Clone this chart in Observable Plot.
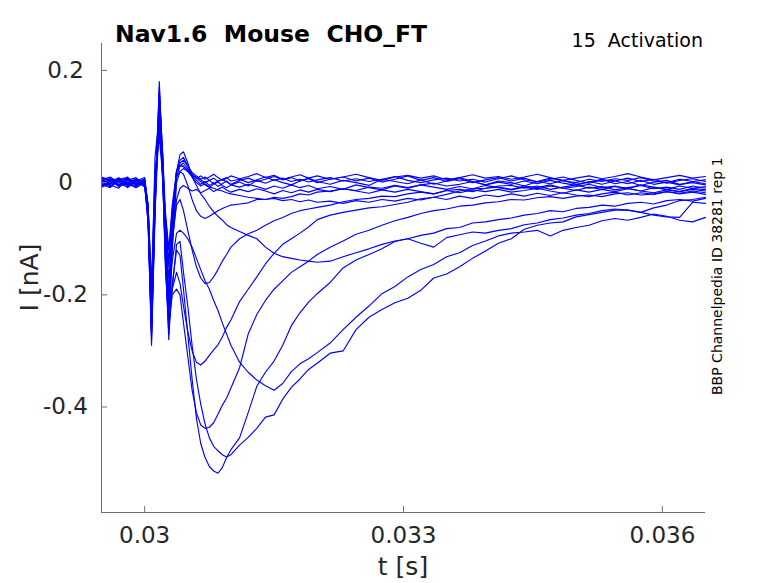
<!DOCTYPE html>
<html><head><meta charset="utf-8">
<script src="https://cdn.jsdelivr.net/npm/d3@7"></script>
<script src="https://cdn.jsdelivr.net/npm/@observablehq/plot@0.6"></script>
<style>html,body{margin:0;padding:0;background:#fff;} #chart svg{display:block}</style>
</head><body><div id="chart"></div>
<script>
// time grid (s)
const time = [0.0295, 0.0296, 0.0297, 0.0298, 0.0299, 0.03,
  0.03004, 0.03008, 0.03012, 0.03017, 0.03021, 0.03024, 0.03028, 0.03032, 0.03037, 0.03041,
  0.03045, 0.0305, 0.03055, 0.0306, 0.03065, 0.0307, 0.03075, 0.0308, 0.03085, 0.0309, 0.03095, 0.031,
  0.0311, 0.0312, 0.0313, 0.0314, 0.0315, 0.0316, 0.0317, 0.0318, 0.0319, 0.032,
  0.03215, 0.0323, 0.03245, 0.0326, 0.03275, 0.0329, 0.03305, 0.0332, 0.03335, 0.0335,
  0.03365, 0.0338, 0.03395, 0.0341, 0.03425, 0.0344, 0.03455, 0.0347, 0.03485, 0.035,
  0.03515, 0.0353, 0.03545, 0.0356, 0.03575, 0.0359, 0.03605, 0.0362, 0.03635, 0.0365];

// current (nA) per sweep
const sweep01 = [0.003, -0.006, 0.002, 0.008, -0.004, 0.007,
  -0.05, -0.24, -0.02, 0.17, 0.04, -0.1, -0.2, -0.08, 0.02, 0.03,
  0.03, 0.02, 0.012, 0.01, 0.005, 0.0, 0.004, -0.002, 0.003, 0.006, 0.001, -0.003,
  0.004, 0.008, 0.002, 0.006, 0.011, 0.005, 0.009, 0.003, 0.007, 0.0,
  0.006, 0.01, 0.003, 0.008, 0.001, 0.006, 0.012, 0.004, 0.009, 0.002, 0.007, 0.0, 0.005, 0.009, 0.003, 0.008, 0.001, 0.006, 0.01, 0.004, -0.001, 0.005, 0.003, 0.008, 0.002, 0.006, -0.001, 0.004, 0.007, 0.002];
const sweep02 = [-0.007, 0.001, 0.006, -0.002, -0.009, 0.0,
  -0.06, -0.27, -0.04, 0.15, 0.02, -0.12, -0.24, -0.1, 0.01, 0.03,
  0.035, 0.025, 0.012, 0.004, -0.003, 0.002, -0.005, 0.0, -0.007, -0.002, 0.003, -0.004,
  0.001, -0.006, 0.004, -0.001, 0.005, 0.0, -0.004, 0.003, 0.008, 0.002,
  -0.003, 0.004, 0.0, -0.005, 0.006, 0.002, -0.002, 0.005, -0.003, 0.003, 0.009, 0.002, -0.004, 0.003, 0.0, -0.006, 0.002, -0.002, 0.004, -0.003, 0.001, 0.006, -0.002, 0.002, -0.005, 0.001, 0.004, -0.003, 0.0, -0.004];
const sweep03 = [0.009, 0.002, -0.005, 0.004, 0.001, -0.006,
  -0.05, -0.26, -0.03, 0.16, 0.05, -0.09, -0.2, -0.07, 0.02, 0.035,
  0.04, 0.03, 0.018, 0.012, 0.006, 0.01, 0.004, 0.008, 0.002, 0.006, 0.009, 0.003,
  0.006, 0.0, 0.005, 0.01, 0.004, 0.008, 0.002, 0.006, 0.001, 0.005,
  0.009, 0.003, 0.007, 0.002, 0.006, 0.011, 0.004, 0.0, 0.005, 0.008, 0.003, 0.006, 0.001, 0.007, 0.012, 0.005, 0.002, 0.008, 0.003, 0.0, 0.006, 0.002, 0.007, 0.004, 0.009, 0.003, 0.0, 0.006, 0.002, 0.005];
const sweep04 = [-0.003, -0.009, 0.004, 0.0, 0.007, -0.005,
  -0.07, -0.29, -0.06, 0.18, 0.03, -0.13, -0.28, -0.12, 0.0, 0.02,
  0.025, 0.02, 0.01, 0.0, -0.006, -0.002, -0.008, -0.003, 0.001, -0.005, -0.009, -0.004,
  -0.008, -0.003, -0.007, -0.012, -0.006, -0.01, -0.004, -0.009, -0.005, -0.011,
  -0.007, -0.012, -0.004, -0.009, -0.013, -0.006, -0.01, -0.004, -0.008, -0.012, -0.007, -0.011, -0.005, -0.009, -0.013, -0.008, -0.012, -0.006, -0.01, -0.014, -0.008, -0.012, -0.007, -0.01, -0.015, -0.009, -0.012, -0.016, -0.01, -0.013];
const sweep05 = [0.005, 0.01, 0.0, -0.004, 0.003, 0.009,
  -0.04, -0.21, 0.045, 0.12, 0.05, -0.05, -0.12, -0.04, 0.02, 0.03,
  0.028, 0.022, 0.015, 0.008, 0.012, 0.006, 0.01, 0.015, 0.009, 0.004, 0.008, 0.012,
  0.007, 0.011, 0.016, 0.009, 0.013, 0.006, 0.01, 0.014, 0.008, 0.012,
  0.006, 0.01, 0.015, 0.009, 0.004, 0.01, 0.013, 0.008, 0.012, 0.005, 0.009, 0.014, 0.008, 0.011, 0.006, 0.01, 0.015, 0.009, 0.004, 0.008, 0.012, 0.007, 0.011, 0.016, 0.01, 0.005, 0.009, 0.013, 0.008, 0.011];
const sweep06 = [-0.008, -0.002, 0.003, 0.006, -0.005, 0.002,
  -0.06, -0.25, -0.02, 0.14, 0.0, -0.11, -0.22, -0.11, -0.03, -0.01,
  -0.005, -0.01, -0.015, -0.012, -0.018, -0.014, -0.01, -0.016, -0.012, -0.008, -0.013, -0.017,
  -0.012, -0.016, -0.011, -0.015, -0.02, -0.014, -0.018, -0.013, -0.017, -0.012,
  -0.016, -0.011, -0.015, -0.019, -0.013, -0.017, -0.012, -0.016, -0.02, -0.014, -0.018, -0.013, -0.016, -0.012, -0.017, -0.014, -0.01, -0.015, -0.019, -0.013, -0.017, -0.012, -0.016, -0.011, -0.015, -0.018, -0.013, -0.016, -0.012, -0.015];
const sweep07 = [0.01, 0.004, -0.003, -0.007, 0.005, -0.001,
  -0.05, -0.23, -0.01, 0.1, 0.04, -0.07, -0.15, -0.05, 0.02, 0.04,
  0.045, 0.03, 0.015, 0.008, 0.002, -0.004, -0.008, -0.01, -0.013, -0.015, -0.018, -0.02,
  -0.023, -0.026, -0.028, -0.03, -0.028, -0.032, -0.03, -0.034, -0.031, -0.035,
  -0.033, -0.037, -0.032, -0.035, -0.03, -0.033, -0.028, -0.031, -0.026, -0.03, -0.024, -0.028, -0.022, -0.025, -0.02, -0.024, -0.019, -0.023, -0.018, -0.022, -0.025, -0.02, -0.017, -0.022, -0.018, -0.021, -0.016, -0.02, -0.017, -0.021];
const sweep08 = [-0.006, 0.003, 0.008, -0.005, 0.004, -0.008,
  -0.05, -0.22, 0.0, 0.09, 0.03, -0.06, -0.14, -0.06, 0.02, 0.05,
  0.055, 0.035, 0.01, -0.005, -0.02, -0.03, -0.042, -0.052, -0.06, -0.067, -0.075, -0.08,
  -0.087, -0.094, -0.1, -0.115, -0.126, -0.132, -0.135, -0.138, -0.14, -0.142,
  -0.14, -0.132, -0.125, -0.118, -0.11, -0.104, -0.1, -0.108, -0.115, -0.098, -0.093, -0.088, -0.09, -0.085, -0.082, -0.075, -0.072, -0.066, -0.063, -0.058, -0.055, -0.05, -0.047, -0.049, -0.053, -0.045, -0.04, -0.032, -0.03, -0.026];
const sweep09 = [0.006, -0.004, -0.01, 0.007, -0.003, 0.001,
  -0.06, -0.25, -0.05, 0.11, 0.02, -0.1, -0.2, -0.14, -0.09, -0.085,
  -0.09, -0.1, -0.115, -0.135, -0.155, -0.175, -0.19, -0.21, -0.228, -0.25, -0.27, -0.29,
  -0.32, -0.338, -0.352, -0.362, -0.37, -0.358, -0.337, -0.323, -0.314, -0.303,
  -0.286, -0.262, -0.24, -0.22, -0.198, -0.185, -0.168, -0.155, -0.146, -0.132, -0.125, -0.112, -0.104, -0.095, -0.09, -0.088, -0.085, -0.095, -0.085, -0.08, -0.076, -0.068, -0.064, -0.067, -0.062, -0.056, -0.06, -0.067, -0.07, -0.062];
const sweep10 = [-0.005, 0.007, -0.004, 0.01, -0.006, 0.003,
  -0.06, -0.26, -0.03, 0.13, 0.02, -0.14, -0.27, -0.19, -0.11, -0.105,
  -0.16, -0.22, -0.29, -0.35, -0.395, -0.43, -0.455, -0.47, -0.478, -0.485, -0.489, -0.485,
  -0.468, -0.454, -0.438, -0.418, -0.414, -0.386, -0.365, -0.35, -0.333, -0.322,
  -0.304, -0.3, -0.262, -0.24, -0.226, -0.214, -0.206, -0.192, -0.17, -0.163, -0.15, -0.135, -0.122, -0.108, -0.1, -0.083, -0.076, -0.072, -0.07, -0.061, -0.057, -0.053, -0.049, -0.049, -0.053, -0.058, -0.061, -0.062, -0.035, -0.037];
const sweep11 = [0.004, -0.008, 0.009, -0.003, 0.006, -0.002,
  -0.07, -0.28, -0.05, 0.16, 0.03, -0.13, -0.26, -0.18, -0.12, -0.13,
  -0.19, -0.27, -0.35, -0.42, -0.465, -0.49, -0.506, -0.514, -0.518, -0.508, -0.49, -0.476,
  -0.455, -0.41, -0.363, -0.338, -0.318, -0.29, -0.255, -0.232, -0.213, -0.198,
  -0.178, -0.152, -0.138, -0.128, -0.118, -0.105, -0.1, -0.094, -0.09, -0.082, -0.08, -0.072, -0.07, -0.066, -0.063, -0.058, -0.055, -0.05, -0.052, -0.046, -0.044, -0.04, -0.042, -0.037, -0.035, -0.038, -0.032, -0.03, -0.033, -0.028];
const sweep12 = [0.008, -0.003, 0.005, -0.009, 0.002, 0.006,
  -0.07, -0.27, -0.04, 0.14, 0.01, -0.15, -0.25, -0.2, -0.19, -0.2,
  -0.25, -0.31, -0.37, -0.41, -0.432, -0.438, -0.436, -0.428, -0.413, -0.397, -0.384, -0.366,
  -0.33, -0.27, -0.235, -0.21, -0.19, -0.175, -0.16, -0.15, -0.14, -0.128,
  -0.115, -0.104, -0.092, -0.085, -0.076, -0.068, -0.062, -0.055, -0.05, -0.047, -0.042, -0.04, -0.036, -0.034, -0.03, -0.031, -0.027, -0.025, -0.028, -0.024, -0.022, -0.025, -0.02, -0.018, -0.022, -0.02, -0.016, -0.019, -0.015, -0.018];
const sweep13 = [-0.002, 0.005, -0.007, 0.004, 0.009, -0.004,
  -0.05, -0.24, -0.02, 0.12, 0.0, -0.12, -0.22, -0.19, -0.16, -0.18,
  -0.22, -0.265, -0.3, -0.32, -0.325, -0.318, -0.308, -0.298, -0.289, -0.275, -0.258, -0.245,
  -0.212, -0.19, -0.168, -0.145, -0.126, -0.11, -0.1, -0.09, -0.079, -0.066,
  -0.058, -0.053, -0.049, -0.045, -0.043, -0.039, -0.035, -0.029, -0.026, -0.021, -0.015, -0.011, -0.01, -0.006, -0.005, -0.01, -0.006, -0.012, -0.008, -0.004, -0.01, -0.007, -0.013, -0.009, -0.005, -0.011, -0.008, -0.012, -0.006, -0.01];
const sweep14 = [0.002, 0.009, -0.006, 0.001, -0.008, 0.005,
  -0.04, -0.2, 0.01, 0.1, 0.02, -0.08, -0.17, -0.1, -0.04, -0.03,
  -0.05, -0.085, -0.12, -0.15, -0.17, -0.18, -0.178, -0.168, -0.155, -0.14, -0.128, -0.115,
  -0.1, -0.091, -0.085, -0.076, -0.068, -0.062, -0.055, -0.05, -0.047, -0.044,
  -0.04, -0.034, -0.03, -0.028, -0.024, -0.025, -0.02, -0.017, -0.02, -0.014, -0.012, -0.016, -0.01, -0.008, -0.012, -0.006, -0.009, -0.004, -0.01, -0.007, -0.003, -0.009, -0.006, -0.011, -0.004, -0.008, -0.012, -0.006, -0.01, -0.007];
const sweep15 = [-0.004, -0.001, 0.006, 0.009, -0.002, 0.004,
  -0.04, -0.18, 0.02, 0.08, 0.01, -0.06, -0.12, -0.05, 0.01, 0.02,
  0.015, -0.005, -0.03, -0.05, -0.06, -0.064, -0.06, -0.055, -0.05, -0.046, -0.043, -0.04,
  -0.038, -0.036, -0.03, -0.03, -0.026, -0.028, -0.025, -0.02, -0.022, -0.017,
  -0.015, -0.011, -0.014, -0.008, -0.01, -0.005, -0.009, -0.004, -0.001, -0.006, -0.003, 0.002, -0.004, 0.001, -0.003, 0.003, -0.002, 0.004, -0.001, -0.005, 0.002, -0.003, 0.003, -0.002, 0.004, -0.003, 0.001, -0.004, 0.002, -0.002];

const sweeps = [sweep01, sweep02, sweep03, sweep04, sweep05, sweep06, sweep07, sweep08,
  sweep09, sweep10, sweep11, sweep12, sweep13, sweep14, sweep15];

const xDomain = [0.0295, 0.0365];
const yDomain = [-0.588, 0.248];
const xTicks = [0.03, 0.033, 0.036];
const yTicks = [0.2, 0, -0.2, -0.4];
const titleText = "Nav1.6  Mouse  CHO_FT";
const protocolText = "15  Activation";
const sideText = "BBP Channelpedia ID 38281 rep 1";
const xLabel = "t [s]";
const yLabel = "I [nA]";

const rows = sweeps.flatMap((s, k) => s.map((v, i) => ({t: time[i], I: v, sweep: k})));

const W = 778, H = 583;
const mL = 101, mR = 73, mT = 43, mB = 71;
const fw = W - mL - mR, fh = H - mT - mB;
const axisColor = "#6e6e6e";
const textColor = "#262626";
const fmt = d => String(d);

const svg = Plot.plot({
  width: W, height: H,
  marginLeft: mL, marginRight: mR, marginTop: mT, marginBottom: mB,
  x: {domain: xDomain, axis: null},
  y: {domain: yDomain, axis: null},
  style: {fontFamily: "DejaVu Sans", background: "#fff", overflow: "visible"},
  marks: [
    Plot.line(rows, {x: "t", y: "I", z: "sweep", stroke: "#0000ff", strokeWidth: 1.15}),
    Plot.ruleX([xDomain[0]], {stroke: axisColor}),
    Plot.ruleY([yDomain[0]], {stroke: axisColor}),
    Plot.tickX(xTicks, {x: d => d, insetTop: fh - 6, stroke: axisColor}),
    Plot.tickY(yTicks, {y: d => d, insetRight: fw - 6, stroke: axisColor}),
    Plot.text(xTicks, {x: d => d, text: fmt, frameAnchor: "bottom", lineAnchor: "top", dy: 14, fontSize: 23, fill: textColor}),
    Plot.text(yTicks, {y: d => d, text: fmt, frameAnchor: "left", textAnchor: "middle", dx: -36, fontSize: 23, fill: textColor})
  ]
});

const s = d3.select(svg);
s.append("text").attr("x", 115).attr("y", 41.5).attr("font-size", 23.5).attr("font-weight", "bold")
  .attr("text-anchor", "start").attr("fill", "#000").style("white-space", "pre").text(titleText);
s.append("text").attr("x", 703).attr("y", 47.3).attr("font-size", 19).attr("text-anchor", "end")
  .attr("fill", "#000").style("white-space", "pre").text(protocolText);
s.append("text").attr("transform", "translate(722,395) rotate(-90)").attr("font-size", 14)
  .attr("text-anchor", "start").attr("fill", "#000").text(sideText);
s.append("text").attr("x", mL + fw / 2).attr("y", 575).attr("font-size", 25).attr("text-anchor", "middle")
  .attr("fill", textColor).text(xLabel);
s.append("text").attr("transform", `translate(38,${mT + fh / 2}) rotate(-90)`).attr("font-size", 25)
  .attr("text-anchor", "middle").attr("fill", textColor).text(yLabel);

document.getElementById("chart").appendChild(svg);
</script>
</body></html>
